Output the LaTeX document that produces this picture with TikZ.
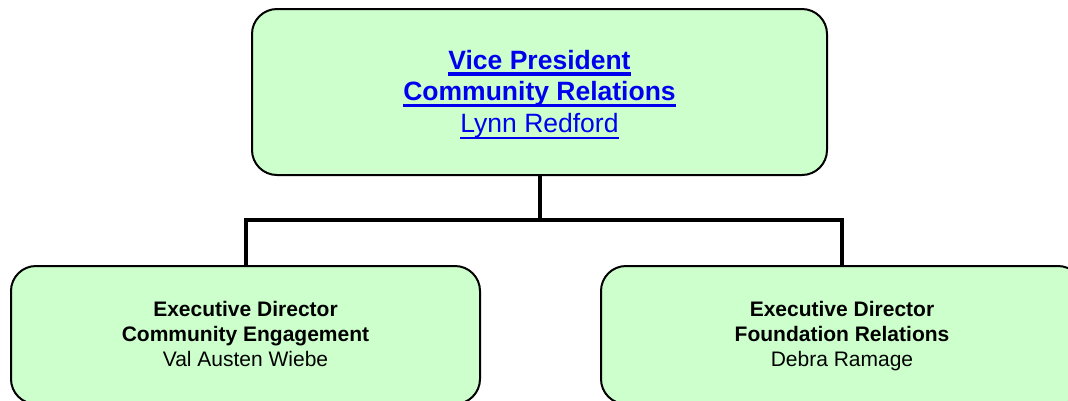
\documentclass[tikz,border=0pt]{standalone}
\usepackage{fontspec}
\setmainfont{Liberation Sans}
\definecolor{boxfill}{RGB}{204,255,204}
\definecolor{linkblue}{RGB}{0,0,238}
\newcommand\ulbox[3]{{\setbox0\hbox{#3}\leavevmode\rlap{\rule[-#1]{\wd0}{#2}}\box0}}
\newcommand\toph[1]{\rule{0pt}{#1}}
\newcommand\botd[1]{\rule[-#1]{0pt}{#1}}
\begin{document}
\begin{tikzpicture}[x=1pt,y=-1pt,
  orgbox/.style={draw=black, line width=2pt, fill=boxfill, rounded corners=25pt,
    align=center, inner sep=0pt},
  topbox/.style={orgbox, minimum width=575pt, minimum height=166pt,
    font=\fontsize{26.5}{31.5}\selectfont, text=linkblue},
  subbox/.style={orgbox, minimum width=469pt, minimum height=138pt,
    font=\fontsize{21}{25}\selectfont},
  conn/.style={draw=black, line width=4pt}]
\useasboundingbox (0,0) rectangle (1068,400);
\clip (0,0) rectangle (1068,400);
\node[topbox] (vp) at (539.5,92) {\toph{27pt}\ulbox{6.5pt}{3.3pt}{\bfseries Vice President}\\
  \ulbox{6.5pt}{3.3pt}{\bfseries Community Relations}\\
  \ulbox{6.7pt}{2.3pt}{Lynn Redford}\botd{9.45pt}};
\node[subbox] (ce) at (245.5,335) {\toph{19pt}\textbf{Executive Director}\\
  \textbf{Community Engagement}\\Val Austen Wiebe\botd{6.4pt}};
\node[subbox, minimum width=482pt] (fr) at (842,335) {\toph{19pt}\textbf{Executive Director}\\
  \textbf{Foundation Relations}\\Debra Ramage\botd{6.4pt}};
\coordinate (bus) at (539.5,220);
\draw[conn] (vp.south) -- (bus);
\draw[conn] (ce.north) |- (bus) -| (fr.north);
\end{tikzpicture}
\end{document}
